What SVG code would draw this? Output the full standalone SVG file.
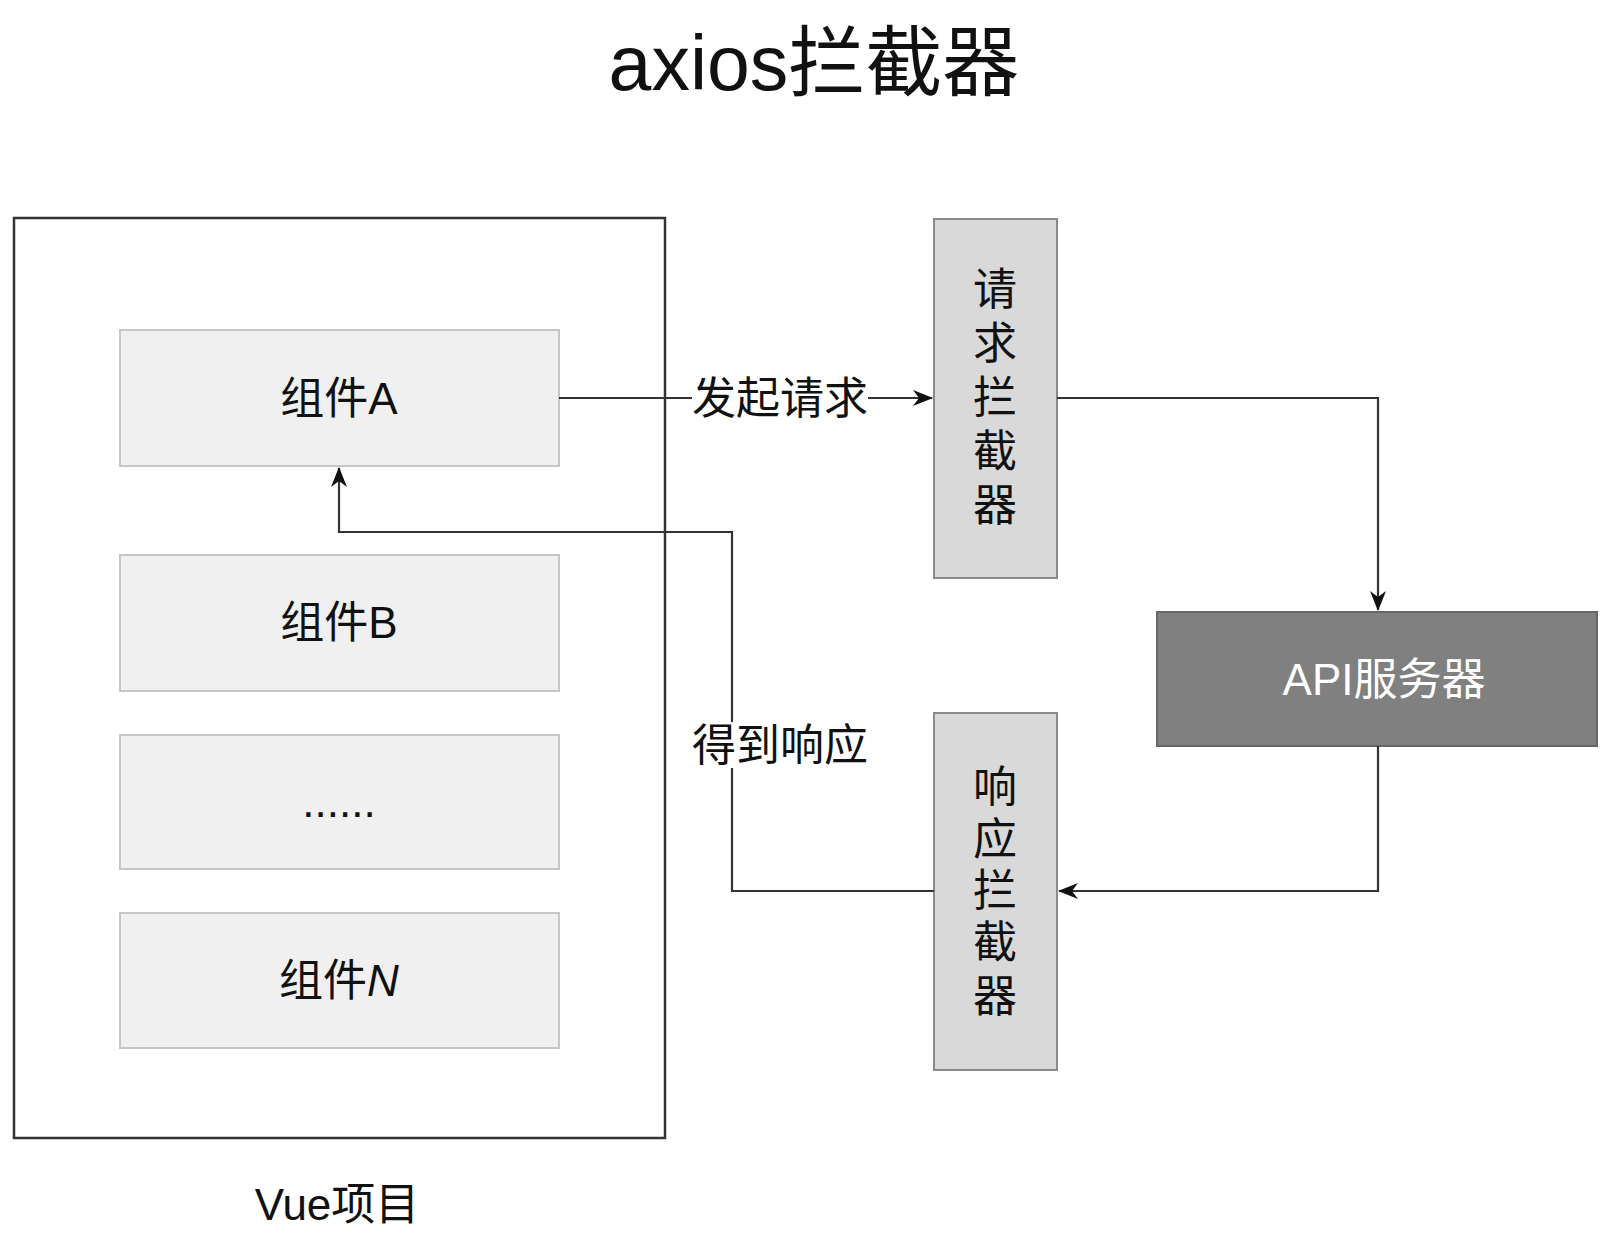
<svg xmlns="http://www.w3.org/2000/svg" width="1600" height="1252" viewBox="0 0 1600 1252">
<defs>
<style>
text{font-family:"Liberation Sans","Noto Sans CJK SC",sans-serif;fill:#111;}
.t{font-size:44px;text-anchor:middle;}
.comp{fill:#f0f0f0;stroke:#c6c6c6;stroke-width:2;}
.icp{fill:#d9d9d9;stroke:#8a8a8a;stroke-width:2;}
.api{fill:#808080;stroke:#666;stroke-width:2;}
.conn{fill:none;stroke:#333;stroke-width:2.2;}
.lbl{fill:#fff;}
</style>
<marker id="arr" viewBox="0 0 20 16" refX="19" refY="8" markerWidth="20" markerHeight="16" markerUnits="userSpaceOnUse" orient="auto">
<path d="M0,0 L20,8 L0,16 L6,8 Z" fill="#111"/>
</marker>
</defs>
<rect width="1600" height="1252" fill="#fff"/>
<text x="814" y="90" style="font-size:77px;text-anchor:middle">axios拦截器</text>

<g id="vue-project">
<rect x="14" y="218" width="651" height="920" fill="none" stroke="#333" stroke-width="2.5"/>
<text class="t" x="337" y="1220">Vue项目</text>
</g>
<g id="comp-a"><rect class="comp" x="120" y="330" width="439" height="136"/><text class="t" x="339" y="414">组件A</text></g>
<g id="comp-b"><rect class="comp" x="120" y="555" width="439" height="136"/><text class="t" x="339" y="638">组件B</text></g>
<g id="comp-etc"><rect class="comp" x="120" y="735" width="439" height="134"/><text class="t" x="339" y="817">......</text></g>
<g id="comp-n"><rect class="comp" x="120" y="913" width="439" height="135"/><text class="t" x="339" y="996">组件<tspan font-style="italic">N</tspan></text></g>

<g id="req-interceptor"><rect class="icp" x="934" y="219" width="123" height="359"/>
<text class="t"><tspan x="995" y="305">请</tspan><tspan x="995" y="359">求</tspan><tspan x="995" y="413">拦</tspan><tspan x="995" y="467">截</tspan><tspan x="995" y="521">器</tspan></text></g>
<g id="resp-interceptor"><rect class="icp" x="934" y="713" width="123" height="357"/>
<text class="t"><tspan x="995" y="803">响</tspan><tspan x="995" y="855">应</tspan><tspan x="995" y="906">拦</tspan><tspan x="995" y="958">截</tspan><tspan x="995" y="1012">器</tspan></text></g>
<g id="api-server"><rect class="api" x="1157" y="612" width="440" height="134"/><text class="t" x="1384" y="695" style="fill:#fff">API服务器</text></g>

<g id="connectors">
<path class="conn" d="M559,398 H932" marker-end="url(#arr)"/>
<path class="conn" d="M1057,398 H1378 V610" marker-end="url(#arr)"/>
<path class="conn" d="M1378,746 V891 H1059" marker-end="url(#arr)"/>
<path class="conn" d="M934,891 H732 V532 H339 V468" marker-end="url(#arr)"/>
<rect class="lbl" x="692" y="376" width="176" height="46"/>
<text class="t" x="780" y="414">发起请求</text>
<rect class="lbl" x="692" y="722" width="176" height="46"/>
<text class="t" x="780" y="761">得到响应</text>
</g>
</svg>
